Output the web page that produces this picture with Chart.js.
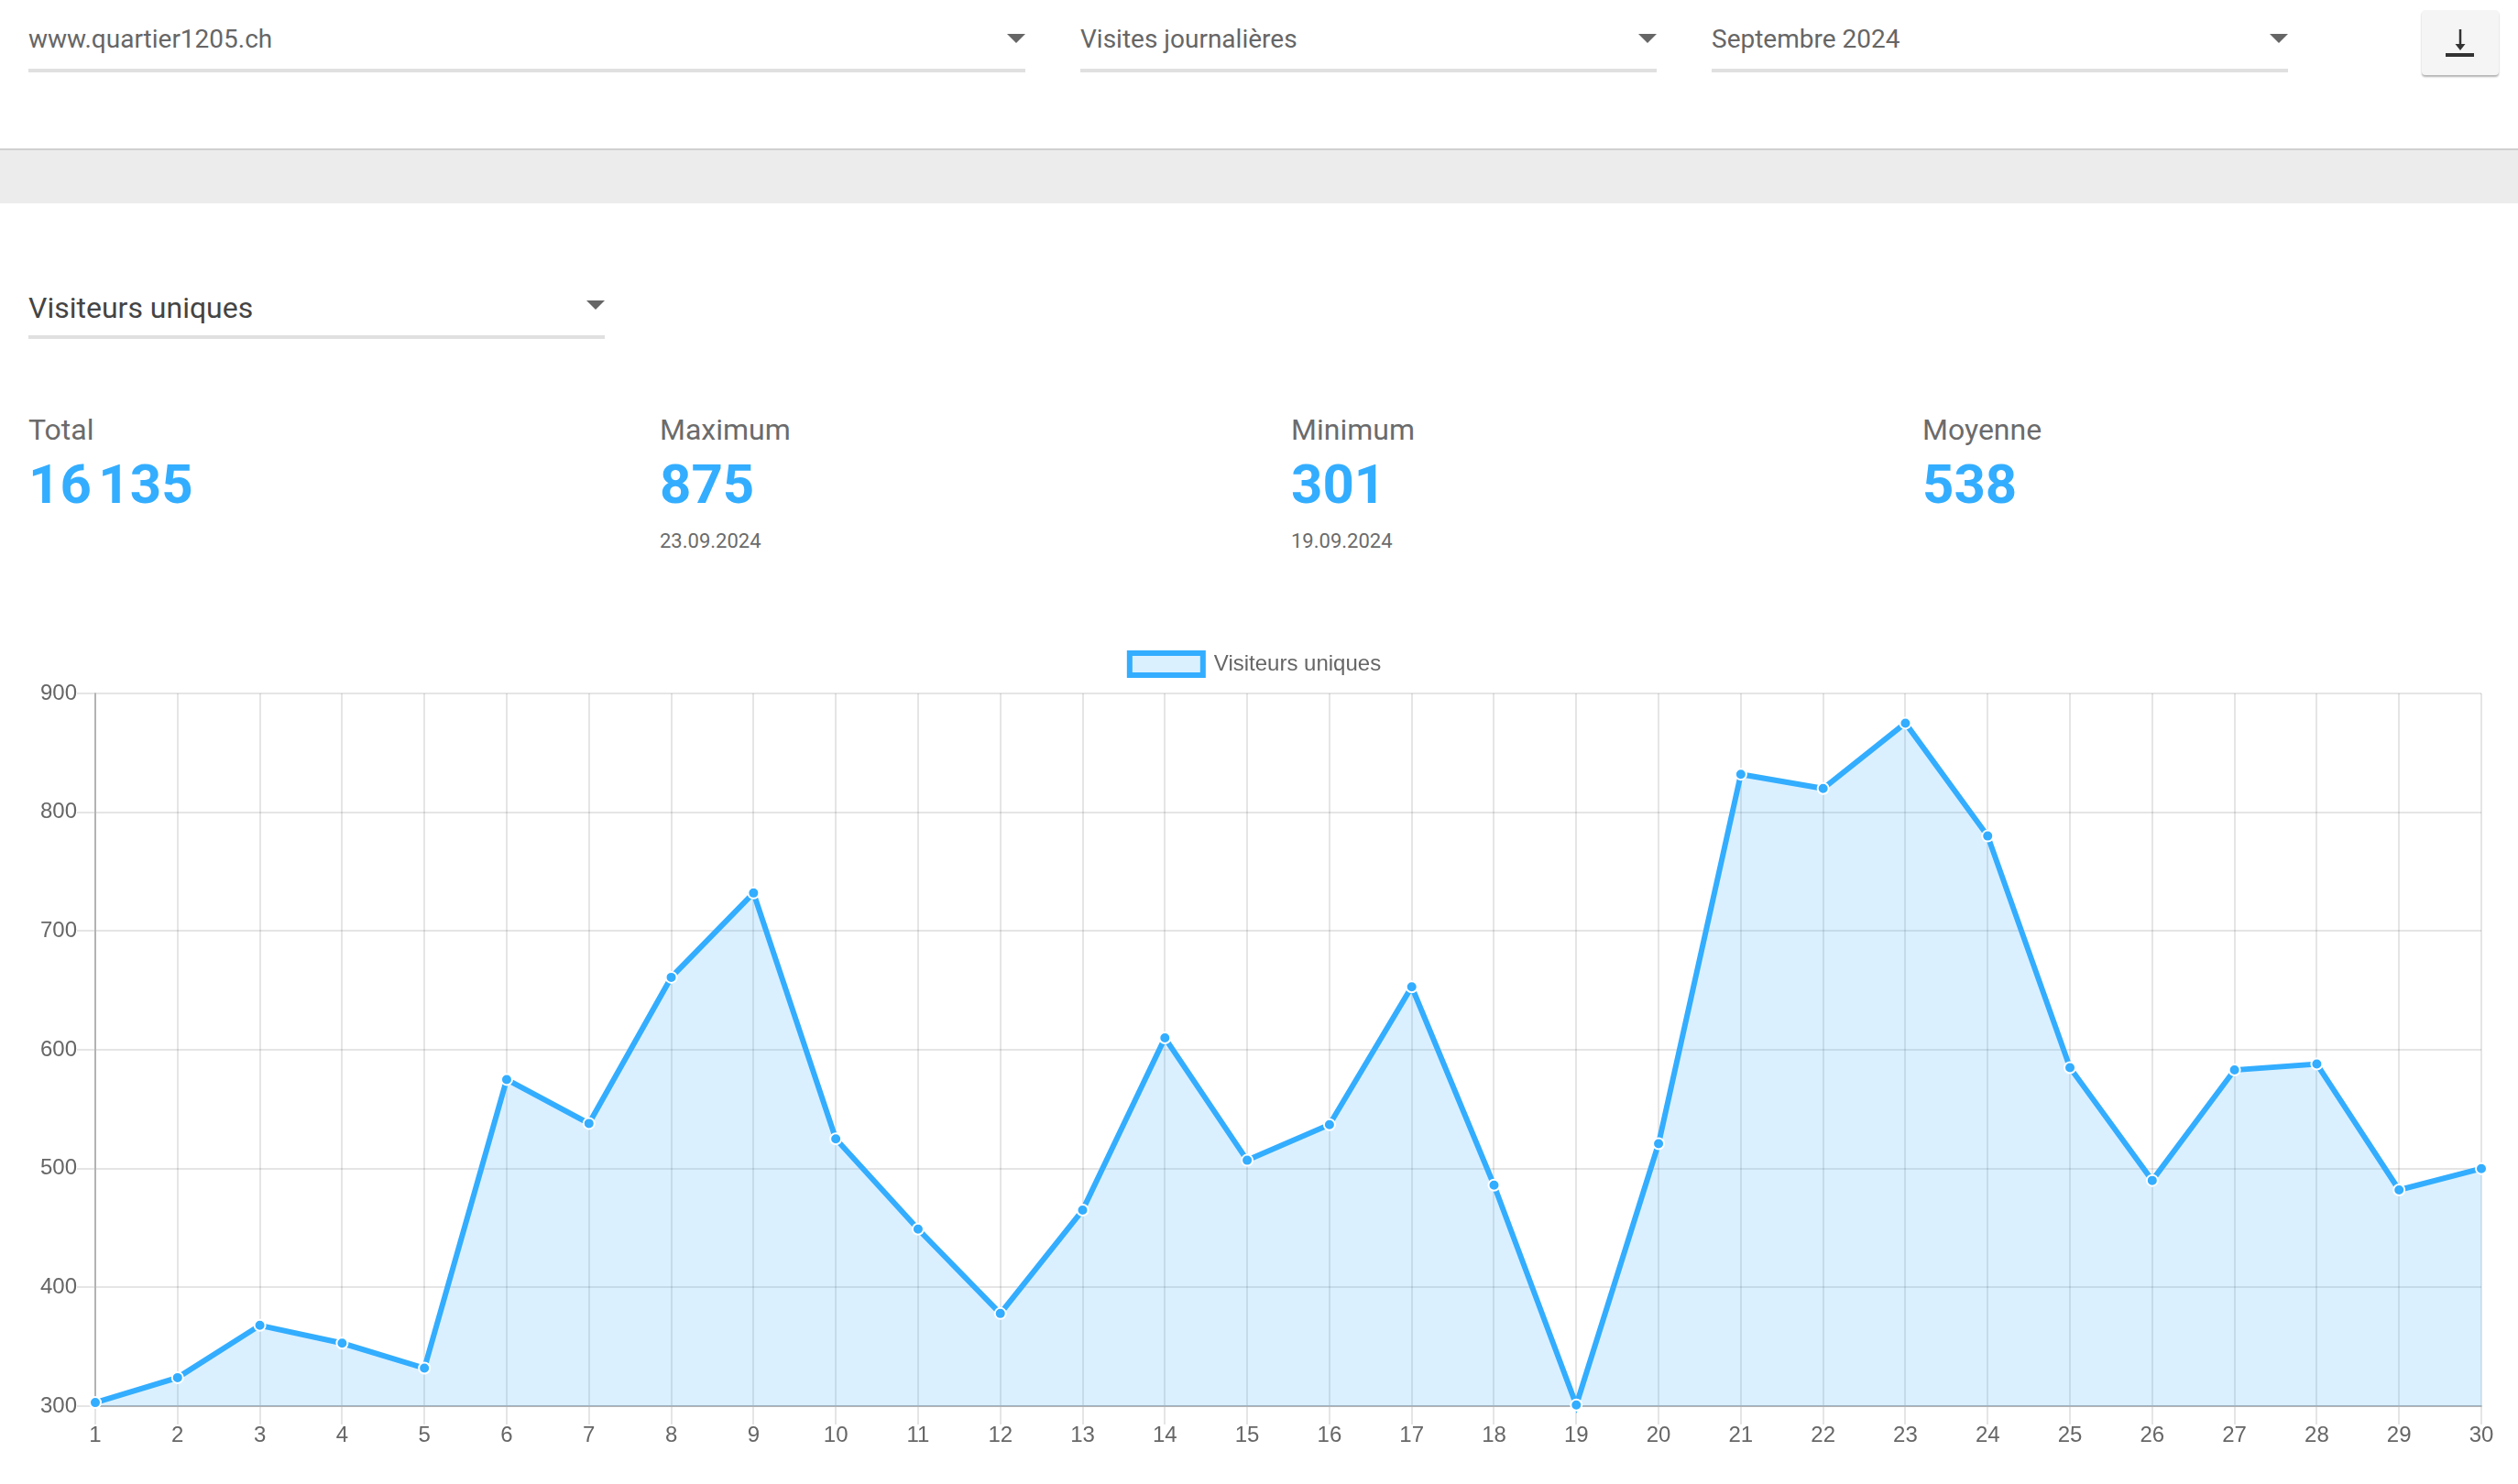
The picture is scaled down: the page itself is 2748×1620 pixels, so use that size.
<!DOCTYPE html>
<html lang="fr">
<head>
<meta charset="utf-8">
<title>Visiteurs uniques</title>
<script src="https://cdn.jsdelivr.net/npm/chart.js@4"></script>
<style>
  html, body { margin: 0; padding: 0; background: #fff; overflow: hidden; }
  body { width: 2748px; height: 1620px; position: relative; font-family: Roboto, sans-serif; }
  .abs { position: absolute; line-height: 1; white-space: nowrap; }
  .sel { font-size: 28px; color: #666; top: 29px; }
  .line { position: absolute; height: 4px; background: #e0e0e0; }
  .arrow { position: absolute; width: 0; height: 0; border-left: 10px solid transparent; border-right: 10px solid transparent; border-top: 10px solid #666; }
  .band { position: absolute; left: 0; top: 162px; width: 2748px; height: 58px; background: #ececec; border-top: 2px solid #d0d0d0; box-sizing: content-box; }
  .btn { position: absolute; left: 2643px; top: 11px; width: 84px; height: 71px; background: #f5f5f5; border-radius: 4px; box-shadow: 0 2px 2px rgba(0,0,0,.3); }
  .stat-label { font-size: 32px; color: #6b6b6b; top: 453px; }
  .stat-value { font-size: 60px; font-weight: 700; color: #33adff; top: 499px; }
  .stat-date { font-size: 22px; color: #6b6b6b; top: 580px; }
  #chartBox { position: absolute; left: 0; top: 682px; width: 2748px; height: 938px; }
</style>
</head>
<body>
<div class="abs sel" style="left:31px">www.quartier1205.ch</div>
<div class="arrow" style="left:1099px;top:37px"></div>
<div class="line" style="left:31px;top:75px;width:1088px"></div>

<div class="abs sel" style="left:1179px">Visites journalières</div>
<div class="arrow" style="left:1788px;top:37px"></div>
<div class="line" style="left:1179px;top:75px;width:629px"></div>

<div class="abs sel" style="left:1868px">Septembre 2024</div>
<div class="arrow" style="left:2477px;top:37px"></div>
<div class="line" style="left:1868px;top:75px;width:629px"></div>

<div class="btn">
  <svg width="84" height="71" viewBox="0 0 84 71">
    <path d="M42 21V41" stroke="#333" stroke-width="2.5"/>
    <path d="M36.5 37H47.5L42 44Z" fill="#333"/>
    <path d="M26 49H57" stroke="#333" stroke-width="4"/>
  </svg>
</div>

<div class="band"></div>

<div class="abs" style="left:31px;top:320px;font-size:32px;color:#444">Visiteurs uniques</div>
<div class="arrow" style="left:640px;top:328px"></div>
<div class="line" style="left:31px;top:366px;width:629px"></div>

<div id="stats"></div>

<div id="chartBox"><canvas id="myChart" width="2748" height="938"></canvas></div>

<script>
const days = ['1','2','3','4','5','6','7','8','9','10','11','12','13','14','15','16','17','18','19','20','21','22','23','24','25','26','27','28','29','30'];
const visitors = [303, 324, 368, 353, 332, 575, 538, 661, 732, 525, 449, 378, 465, 610, 507, 537, 653, 486, 301, 521, 832, 820, 875, 780, 585, 490, 583, 588, 482, 500];
const statLabels = ['Total', 'Maximum', 'Minimum', 'Moyenne'];
const statValues = ['16\u202F135', '875', '301', '538'];
const statDates = ['', '23.09.2024', '19.09.2024', ''];
const statLeft = [31, 720, 1409, 2098];

// les quatre blocs de chiffres au-dessus du graphique
const statsEl = document.getElementById('stats');
statLabels.forEach((label, i) => {
  statsEl.insertAdjacentHTML('beforeend',
    `<div class="abs stat-label" style="left:${statLeft[i]}px">${label}</div>` +
    `<div class="abs stat-value" style="left:${statLeft[i]}px">${statValues[i]}</div>` +
    `<div class="abs stat-date" style="left:${statLeft[i]}px">${statDates[i]}</div>`);
});

const blue = '#33adff';
const tickFont = { family: '"Liberation Sans", Arial, sans-serif', size: 24 };

// un peu plus d'espace entre la légende et le graphique
const legendGap = {
  id: 'legendGap',
  beforeInit(chart) {
    const fit = chart.legend.fit;
    chart.legend.fit = function () {
      fit.call(this);
      this.height += 10;
    };
  },
};

new Chart(document.getElementById('myChart').getContext('2d'), {
  type: 'line',
  plugins: [legendGap],
  data: {
    labels: days,
    datasets: [{
      label: 'Visiteurs uniques',
      data: visitors,
      borderColor: blue,
      backgroundColor: 'rgba(51, 173, 255, 0.18)',
      borderWidth: 6,
      fill: 'start',
      tension: 0,
      clip: false,
      pointRadius: 6,
      pointBorderWidth: 2,
      pointBackgroundColor: blue,
      pointBorderColor: '#fff',
    }],
  },
  options: {
    responsive: false,
    devicePixelRatio: 1,
    animation: false,
    layout: { autoPadding: false, padding: { left: 32, right: 40 } },
    plugins: {
      tooltip: { enabled: false },
      legend: {
        position: 'top',
        labels: { boxWidth: 80, boxHeight: 24, padding: 31, color: '#666', font: tickFont },
      },
    },
    scales: {
      x: {
        offset: false,
        afterFit: (scale) => { scale.height = 85; },
        grid: { color: 'rgba(0,0,0,0.1)', lineWidth: 2, tickLength: 20 },
        border: { color: 'rgba(0,0,0,0.22)', width: 2 },
        ticks: { color: '#666', font: tickFont, padding: -2, maxRotation: 0, autoSkip: false },
      },
      y: {
        min: 300,
        max: 900,
        afterFit: (scale) => { scale.width = 72; },
        grid: { color: 'rgba(0,0,0,0.1)', lineWidth: 2, tickLength: 20 },
        border: { color: 'rgba(0,0,0,0.22)', width: 2 },
        ticks: { color: '#666', font: tickFont, padding: 0, stepSize: 100 },
      },
    },
  },
});
</script>
</body>
</html>
